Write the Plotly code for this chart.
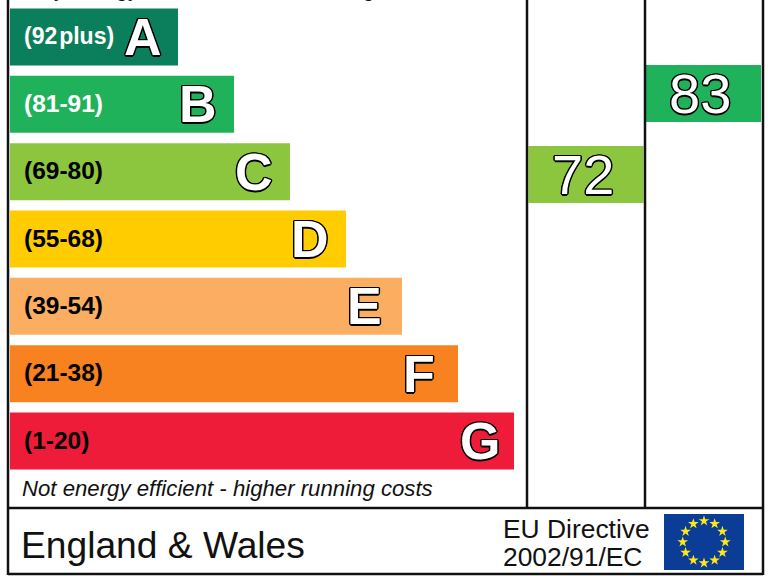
import math
import plotly.graph_objects as go

# EPC style rating chart, England & Wales
bands = ["A", "B", "C", "D", "E", "F", "G"]
band_ranges = ["(92\u200aplus)", "(81-91)", "(69-80)", "(55-68)", "(39-54)", "(21-38)", "(1-20)"]
band_lengths = [3, 4, 5, 6, 7, 8, 9]
band_colors = ["#0b7f5b", "#1fb25a", "#8cc63f", "#ffcc00", "#fbae62", "#f7821f", "#ef1c39"]
range_text_colors = ["white", "white", "black", "black", "black", "black", "black"]

score_columns = ["Current", "Potential"]
scores = [72, 83]
score_colors = ["#8cc63f", "#1fb25a"]

star_hours = [1, 2, 3, 4, 5, 6, 7, 8, 9, 10, 11, 12]

W, H = 768, 576
SANS = "Liberation Sans"
OUTLINE = "1.5px 0 0 #000, -1.5px 0 0 #000, 0 1.5px 0 #000, 0 -1.5px 0 #000, 1px 1px 0 #000, -1px -1px 0 #000, 1px -1px 0 #000, -1px 1px 0 #000"


def px(v):
    return v / W


def py(v):
    return 1 - v / H


fig = go.Figure()

# rating bands, one unit of length is 56 pixels
fig.add_trace(go.Bar(y=bands, x=band_lengths, base=-0.018, orientation="h", width=0.847,
                     marker=dict(color=band_colors, line_width=0), xaxis="x", yaxis="y",
                     hoverinfo="skip"))

# current / potential blocks
fig.add_trace(go.Bar(x=score_columns, y=[7.74, 7.74], base=[s - 3.87 for s in scores], width=0.98,
                     marker=dict(color=score_colors, line_width=0), xaxis="x2", yaxis="y2",
                     hoverinfo="skip"))

# eu flag stars
fig.add_trace(go.Scatter(x=[math.sin(h * math.pi / 6) for h in star_hours],
                         y=[math.cos(h * math.pi / 6) for h in star_hours],
                         mode="markers", xaxis="x3", yaxis="y3", hoverinfo="skip",
                         marker=dict(symbol="star", size=8, color="#ffe81a", line_width=0)))

# small nudges so the big letters sit where they do in the label
nudge = {"A": 1, "E": -2, "F": -3, "G": 2}

notes = []
for band, rng, length, col in zip(bands, band_ranges, band_lengths, range_text_colors):
    notes.append(dict(x=0, y=band, xref="x", yref="y", text="<b>%s</b>" % rng, showarrow=False,
                      xanchor="left", xshift=11, yshift=1,
                      font=dict(family=SANS, size=23 if band == "A" else 24.5, color=col)))
    notes.append(dict(x=length, y=band, xref="x", yref="y", text="<b>%s</b>" % band, showarrow=False,
                      xanchor="center", xshift=-37 + nudge.get(band, 0), yshift=0,
                      font=dict(family=SANS, size=52, color="white", shadow=OUTLINE)))

for col, score in zip(score_columns, scores):
    notes.append(dict(x=col, y=score, xref="x2", yref="y2", text=str(score), showarrow=False,
                      xshift=-3, font=dict(family=SANS, size=56, color="white", shadow=OUTLINE)))


def label(x, y, text, size, italic=False, color="#111111"):
    notes.append(dict(x=px(x), y=py(y), xref="paper", yref="paper", text=text, showarrow=False,
                      xanchor="left", yanchor="middle",
                      font=dict(family=SANS, size=size, color=color,
                                style="italic" if italic else "normal")))


label(20, -11, "Very energy efficient - lower running costs", 22.2, italic=True)
label(20, 488, "Not energy efficient - higher running costs", 22.2, italic=True)
label(19, 545, "England &amp; Wales", 37.2)
label(501, 529, "EU Directive", 26.4)
label(501, 557, "2002/91/EC", 26.4)

# frame
frame = [(8, 0, 8, 575), (763, 0, 763, 575), (527, 0, 527, 508), (645, 0, 645, 508),
         (8, 508, 763, 508), (8, 574, 763, 574)]
shapes = [dict(type="line", xref="paper", yref="paper", x0=px(a), y0=py(b), x1=px(c), y1=py(d),
               line=dict(color="#111111", width=2.5), layer="above") for a, b, c, d in frame]
shapes.append(dict(type="rect", xref="x3 domain", yref="y3 domain", x0=0, x1=1, y0=0, y1=1,
                   fillcolor="#0b3c96", line_width=0, layer="below"))

hidden = dict(visible=False, fixedrange=True)
fig.update_layout(
    width=W, height=H, margin=dict(l=0, r=0, t=0, b=0), showlegend=False, barmode="overlay",
    paper_bgcolor="white", plot_bgcolor="rgba(0,0,0,0)", annotations=notes, shapes=shapes,
    xaxis=dict(range=[-11 / 56, 757 / 56], domain=[0, 1], **hidden),
    yaxis=dict(type="category", categoryorder="array", categoryarray=bands,
               range=[8.005, -0.55], domain=[0, 1], **hidden),
    xaxis2=dict(type="category", categoryorder="array", categoryarray=score_columns,
                range=[-4.987, 1.549], domain=[0, 1], anchor="y2", **hidden),
    yaxis2=dict(range=[17.45, 95.7], domain=[0, 1], anchor="x2", **hidden),
    xaxis3=dict(range=[-1.88, 1.88], domain=[px(664), px(744)], anchor="y3", **hidden),
    yaxis3=dict(range=[-1.33, 1.33], domain=[py(570), py(514)], anchor="x3", **hidden),
)

# the page has a default body margin which would push the chart off the window
fig.write_html("out.html", config=dict(displayModeBar=False),
               post_script="document.body.style.margin='0';document.body.style.overflow='hidden';")
